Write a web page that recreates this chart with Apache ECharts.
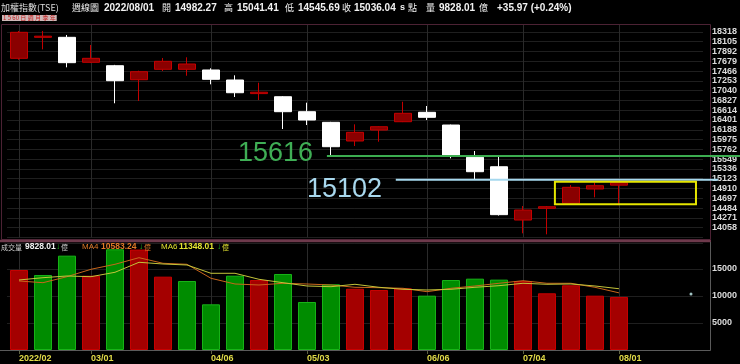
<!DOCTYPE html>
<html><head><meta charset="utf-8">
<script src="https://cdn.jsdelivr.net/npm/echarts@6/dist/echarts.min.js"></script>
<style>html,body{margin:0;padding:0;background:#000;}#c{width:740px;height:364px;}</style>
</head><body><div id="c"></div>
<script>
// ---- data (weekly TAIEX candles) ----
const weeks = ['2022/02/07','02/14','02/21','03/01','03/07','03/14','03/21','03/28','04/06','04/11','04/18','04/25','05/03','05/09','05/16','05/23','05/30','06/06','06/13','06/20','06/27','07/04','07/11','07/18','07/25','08/01'];
const padWeeks = ['08/08','08/15','08/22'];
const open  = [17743,18200,18200,17656,17582,17277,17504,17504,17489,17271,16975,16907,16581,16350,15943,16182,16363,16568,16291,15588,15383,14223,14478,14587,14898,14982.27];
const close = [18309,18225,17648,17743,17256,17452,17678,17619,17286,16994,17005,16581,16400,15819,16132,16254,16546,16459,15638,15275,14340,14441,14513,14935,14970,15036.04];
const low   = [17713,17939,17547,17640,16764,16814,17467,17364,17177,16901,16835,16204,16291,15638,15834,15928,16355,16400,15566,15116,14320,13934,13912,14580,14717,14545.69];
const high  = [18338,18338,18251,18033,17600,17473,17750,17765,17526,17373,17212,16920,16777,16360,16306,16262,16798,16705,16300,15725,15601,14528,14528,14985,15035,15041.41];
const volume = [14815,13890,17470,13760,18650,18600,13580,12780,8460,13760,12960,14075,8890,12170,11350,11110,11420,10060,12960,13210,13030,12780,10500,11980,10060,9828.01];
const volumeRed = [1,0,0,1,0,1,1,0,0,0,1,0,0,0,1,1,1,0,0,0,0,1,1,1,1,1];
const ma4 = [12779,12464,13575,14946,15872,17094,16057,15872,13279,12223,12038,12353,12223,12038,11612,11538,11427,10797,11427,11853,12353,12834,12353,12353,11612,10583.24];
const ma6 = [12964,13390,13705,13575,14390,16242,15927,15742,14205,14205,13094,12464,11853,11723,12168,11612,11242,11112,11242,11612,11908,12353,12168,12223,11853,11348.01];
const tickIndex = [0,3,8,12,17,21,25];
const tickLabels = ['2022/02','03/01','04/06','05/03','06/06','07/04','08/01'];
const levels = [15616, 15102];
const boxRange = [15057, 14567];
const dotVolume = 10370;

const cats = weeks.concat(padWeeks);
const candleData = open.map((o, i) => [o, close[i], low[i], high[i]]);
const volData = volume.map((v, i) => ({
  value: v,
  itemStyle: volumeRed[i] ? {color: '#a40000', borderColor: '#c80000', borderWidth: 1}
                          : {color: '#008c00', borderColor: '#18b418', borderWidth: 1}
}));
const isTick = i => tickIndex.indexOf(i) >= 0;
const vLines = tickIndex.map(i => ({xAxis: cats[i]}));
const NUM = 'Liberation Sans';
const CJK = '"Noto Sans CJK TC"';

const chart = echarts.init(document.getElementById('c'));
chart.setOption({
  backgroundColor: '#000',
  animation: false,
  grid: [
    {left: 7, top: 24, width: 697.16, height: 213.4},
    {left: 7, top: 243, width: 697.16, height: 107}
  ],
  xAxis: [
    {type: 'category', gridIndex: 0, data: cats, axisLine: {show: false}, axisTick: {show: false},
     axisLabel: {show: false}, splitLine: {show: false}},
    {type: 'category', gridIndex: 1, data: cats,
     axisLine: {lineStyle: {color: '#5a5a5a'}},
     axisTick: {show: true, alignWithLabel: true, length: 4, interval: (i) => isTick(i), lineStyle: {color: '#5c6040'}},
     axisLabel: {interval: (i) => isTick(i), formatter: (v, i) => (isTick(i) ? tickLabels[tickIndex.indexOf(i)] : ''),
                 color: '#e2dc48', fontWeight: 'bold', fontSize: 9, fontFamily: NUM, align: 'left', margin: 4},
     splitLine: {show: false}}
  ],
  yAxis: [
    {type: 'value', gridIndex: 0, position: 'right', min: 13845, max: 18490, interval: 213, scale: true,
     axisLine: {show: false}, axisTick: {show: false},
     splitLine: {lineStyle: {color: '#1f1f1f'}},
     axisLabel: {color: '#dcdcdc', fontSize: 9, fontWeight: 'bold', fontFamily: NUM, margin: 9,
                 showMinLabel: false, showMaxLabel: false, formatter: (v) => String(v)}},
    {type: 'value', gridIndex: 1, position: 'right', min: 0, max: 19815, interval: 5000,
     axisLine: {show: false}, axisTick: {show: false},
     splitLine: {lineStyle: {color: '#1f1f1f'}},
     axisLabel: {color: '#dcdcdc', fontSize: 9, fontWeight: 'bold', fontFamily: NUM, margin: 9,
                 showMinLabel: false, showMaxLabel: false, formatter: (v) => String(v)}}
  ],
  series: [
    {type: 'candlestick', xAxisIndex: 0, yAxisIndex: 0, data: candleData, barWidth: 18,
     itemStyle: {color: '#8a0000', color0: '#ffffff', borderColor: '#c40000', borderColor0: '#ffffff', borderWidth: 1},
     markLine: {silent: true, symbol: ['none', 'none'], z: 1, label: {show: false},
                lineStyle: {color: '#2a2a2a', type: 'solid', width: 1}, data: vLines}},
    {type: 'bar', xAxisIndex: 1, yAxisIndex: 1, data: volData, barWidth: 18,
     markLine: {silent: true, symbol: ['none', 'none'], z: 1, label: {show: false},
                lineStyle: {color: '#2a2a2a', type: 'solid', width: 1}, data: vLines}},
    {type: 'line', xAxisIndex: 1, yAxisIndex: 1, data: ma4, symbol: 'none', z: 5,
     lineStyle: {color: '#c8661c', width: 1}},
    {type: 'line', xAxisIndex: 1, yAxisIndex: 1, data: ma6, symbol: 'none', z: 5,
     lineStyle: {color: '#c4c43a', width: 1}},
    {type: 'scatter', xAxisIndex: 1, yAxisIndex: 1, data: [[padWeeks[2], dotVolume]], symbolSize: 3,
     itemStyle: {color: '#c8f4f4'}}
  ]
});

// ---- annotations positioned through the chart's own scales ----
const px = (i) => chart.convertToPixel({xAxisIndex: 0}, cats[i]);
const py = (v) => chart.convertToPixel({yAxisIndex: 0}, v);
const bw = px(14) - px(13);
const yGreen = py(levels[0]);
const yBlue = py(levels[1]);
function txt(x, y, s, color, size, bold, family, align) {
  return {type: 'text', x: x, y: y, z: 100,
          style: {text: s, fill: color, font: (bold ? 'bold ' : '') + size + 'px ' + family,
                  align: align || 'left', verticalAlign: 'middle'}};
}
const W = '#f2f2f2';
const g = [
  // frames
  {type: 'rect', z: 50, shape: {x: 1.5, y: 24.5, width: 709, height: 215},
   style: {fill: 'none', stroke: '#4c2234', lineWidth: 1}},
  {type: 'line', z: 50, shape: {x1: 0, y1: 241, x2: 711, y2: 241},
   style: {stroke: '#6e3a4c', lineWidth: 2.5}},
  {type: 'polyline', z: 50, shape: {points: [[710.5, 242], [710.5, 350.5], [0, 350.5]]},
   style: {fill: 'none', stroke: '#5a5a5a', lineWidth: 1}},
  // level lines
  {type: 'line', z: 60, shape: {x1: px(13) - 0.17 * bw, y1: yGreen, x2: 740, y2: yGreen},
   style: {stroke: '#3cad50', lineWidth: 2}},
  {type: 'line', z: 60, shape: {x1: px(16) - 0.3 * bw, y1: yBlue, x2: 718, y2: yBlue},
   style: {stroke: '#a6d8ee', lineWidth: 2}},
  txt(px(13) - 18, yGreen - 2, String(levels[0]), '#3fae55', 27, false, NUM, 'right'),
  txt(px(16) - 21, yBlue + 9.5, String(levels[1]), '#a8d8ee', 27, false, NUM, 'right'),
  // yellow box
  {type: 'rect', z: 60, shape: {x: px(22) + 0.33 * bw, y: py(boxRange[0]),
                                width: (px(28) + 5) - (px(22) + 0.33 * bw), height: py(boxRange[1]) - py(boxRange[0])},
   style: {fill: 'none', stroke: '#e6e600', lineWidth: 2}},
  // header
  txt(1, 8, '加權指數(TSE)', '#dddddd', 9, false, CJK),
  txt(72, 8, '週線圖', W, 9, false, CJK),
  txt(104, 8, '2022/08/01', W, 10, true, NUM),
  txt(162, 8, '開', W, 9, false, CJK),
  txt(175, 8, '14982.27', W, 10, true, NUM),
  txt(224, 8, '高', W, 9, false, CJK),
  txt(237, 8, '15041.41', W, 10, true, NUM),
  txt(285, 8, '低', W, 9, false, CJK),
  txt(298, 8, '14545.69', W, 10, true, NUM),
  txt(342, 8, '收', W, 9, false, CJK),
  txt(354, 8, '15036.04', W, 10, true, NUM),
  txt(400, 8, 's', W, 9, true, NUM),
  txt(408, 8, '點', W, 9, false, CJK),
  txt(426, 8, '量', W, 9, false, CJK),
  txt(439, 8, '9828.01', W, 10, true, NUM),
  txt(479, 8, '億', W, 9, false, CJK),
  txt(497, 8, '+35.97 (+0.24%)', W, 10, true, NUM),
  {type: 'text', x: 2, y: 18, z: 100,
   style: {text: '1 5 60 日 週 月 季 年', fill: '#c02020', font: '6px ' + CJK, verticalAlign: 'middle',
           backgroundColor: '#cdb8b8', padding: [0, 1]}},
  // volume legend
  txt(1, 247, '成交量', '#cfcfcf', 7, false, CJK),
  txt(25, 247, '9828.01', W, 8.5, true, NUM),
  txt(56, 247, '↓', '#22c022', 8, true, NUM),
  txt(61, 247, '億', '#cfcfcf', 7, false, CJK),
  txt(82, 247, 'MA4', '#e07a28', 8, false, NUM),
  txt(101, 247, '10583.24', '#e07a28', 8.5, true, NUM),
  txt(139, 247, '↓', '#22c022', 8, true, NUM),
  txt(144, 247, '億', '#e07a28', 7, false, CJK),
  txt(161, 247, 'MA6', '#e4e430', 8, false, NUM),
  txt(179, 247, '11348.01', '#e4e430', 8.5, true, NUM),
  txt(217, 247, '↓', '#22c022', 8, true, NUM),
  txt(222, 247, '億', '#e4e430', 7, false, CJK)
];
chart.setOption({graphic: g});
</script></body></html>
